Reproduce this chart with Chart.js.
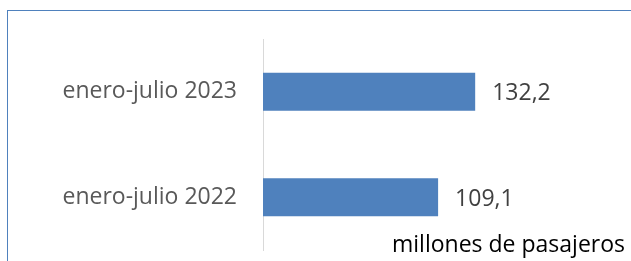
<!DOCTYPE html>
<html>
<head>
<meta charset="utf-8">
<script src="https://cdn.jsdelivr.net/npm/chart.js@4.4.0/dist/chart.umd.min.js"></script>
<style>
  html, body { margin: 0; padding: 0; background: #fff; }
  #wrap { position: relative; width: 631px; height: 261px; overflow: hidden; }
  #frame { position: absolute; left: 7px; top: 10px; width: 700px; height: 300px;
           border-top: 1px solid #4f81bd; border-left: 1px solid #4f81bd; }
  #c { position: absolute; left: 0; top: 0; }
  #unit { position: absolute; right: 6px; top: 232px; font: 23px/23px "Open Sans", sans-serif;
          color: #000; white-space: nowrap; }
</style>
</head>
<body>
<div id="wrap">
  <div id="frame"></div>
  <canvas id="c" width="631" height="261"></canvas>
  <div id="unit">millones de pasajeros</div>
</div>
<script>
const categories = ['enero-julio 2023', 'enero-julio 2022'];
const passengers = [132.2, 109.1];
const valueLabels = ['132,2', '109,1'];

const FONT = '"Open Sans", sans-serif';

// etiquetas de valor a la derecha de cada barra
const valueLabelPlugin = {
  id: 'valueLabels',
  afterDatasetsDraw(chart) {
    const ctx = chart.ctx;
    const meta = chart.getDatasetMeta(0);
    ctx.save();
    ctx.font = '23px ' + FONT;
    ctx.fillStyle = '#404040';
    ctx.textAlign = 'left';
    ctx.textBaseline = 'middle';
    meta.data.forEach((bar, i) => {
      ctx.fillText(valueLabels[i], bar.x + 17, bar.y + 2);
    });
    ctx.restore();
  }
};

new Chart(document.getElementById('c'), {
  type: 'bar',
  data: {
    labels: categories,
    datasets: [{
      data: passengers,
      backgroundColor: '#4f81bd',
      borderWidth: 0,
      barPercentage: 0.36,
      categoryPercentage: 1.0
    }]
  },
  options: {
    indexAxis: 'y',
    responsive: false,
    animation: false,
    layout: { padding: { top: 39, bottom: 11, left: 0, right: 47 } },
    plugins: {
      legend: { display: false },
      tooltip: { enabled: false }
    },
    scales: {
      x: { display: false, min: 0, max: 200 },
      y: {
        afterFit(scale) {
          scale.width = 263;
          // el padding de los ticks no debe reservar espacio arriba/abajo
          scale.paddingTop = 0;
          scale.paddingBottom = 0;
        },
        grid: { display: false, drawTicks: false },
        border: { display: true, color: '#d9d9d9', width: 1 },
        ticks: {
          color: '#595959',
          padding: 26,
          font: { family: FONT, size: 23 }
        }
      }
    }
  },
  plugins: [valueLabelPlugin]
});
</script>
</body>
</html>
